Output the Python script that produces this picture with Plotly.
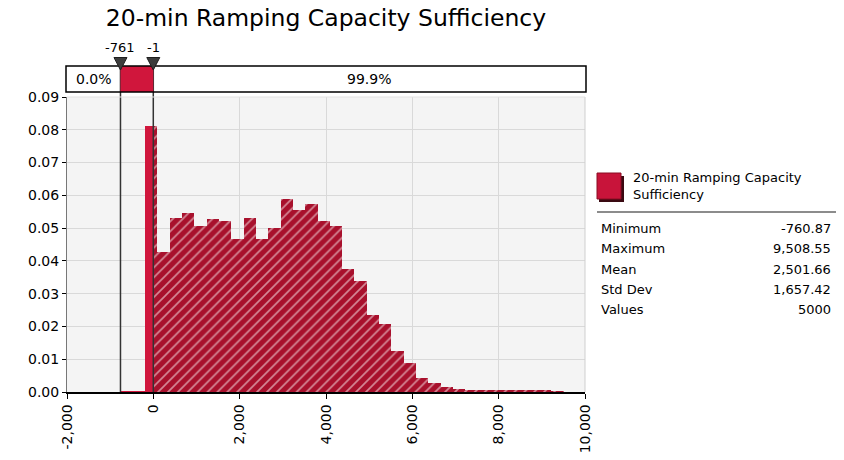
import numpy as np
import plotly.graph_objects as go

# 图表文字
chart_title = "20-min Ramping Capacity Sufficiency"
series_name = "20-min Ramping Capacity<br>Sufficiency"

# 统计量
stat_names = ["Minimum", "Maximum", "Mean", "Std Dev", "Values"]
stat_values = ["-760.87", "9,508.55", "2,501.66", "1,657.42", "5000"]

# 直方图数据（36 个等宽区间，从最小值到最大值）
data_min = -760.87
data_max = 9508.55
n_bins = 36
bin_heights = [
    0.0003, 0.0003, 0.0813, 0.0428, 0.0532, 0.0547, 0.0507, 0.0527, 0.0521,
    0.0468, 0.0532, 0.0468, 0.0500, 0.0588, 0.0556, 0.0574, 0.0521, 0.0507,
    0.0376, 0.0339, 0.0234, 0.0207, 0.0125, 0.0090, 0.0042, 0.0027, 0.0015,
    0.0009, 0.0005, 0.0004, 0.0004, 0.0004, 0.0004, 0.0004, 0.0004, 0.0003,
]

# 分隔线（delimiters）及区间概率
delim_lo = -761
delim_hi = -1
delim_labels = ["-761", "-1"]
left_pct = "0.0%"
right_pct = "99.9%"

# 坐标轴刻度
x_ticks = [-2000, 0, 2000, 4000, 6000, 8000, 10000]
y_ticks = [0.00, 0.01, 0.02, 0.03, 0.04, 0.05, 0.06, 0.07, 0.08, 0.09]

# 画布与绘图区像素位置
W, H = 844, 460
PLOT_L, PLOT_R, PLOT_T, PLOT_B = 67, 585, 97, 392
PW, PH = PLOT_R - PLOT_L, PLOT_B - PLOT_T
FONT = "DejaVu Sans"

SOLID = "#D0163C"
HATCH_BG = "#A8102C"


def px_x(px):
    return (px - PLOT_L) / PW


def px_y(py):
    return 1 - (py - PLOT_T) / PH


def px_dx(dpx):
    # 像素宽度换算为 x 数据单位
    return dpx * (x_ticks[-1] - x_ticks[0]) / PW


def text(t, x, y, xref="paper", xanchor="center", size=13):
    return dict(text=t, xref=xref, yref="paper", x=x, y=y, xanchor=xanchor,
                yanchor="middle", align="left", showarrow=False,
                font=dict(family=FONT, size=size, color="black"))


# 把每个区间按分隔线拆成实心部分和斜线部分
edges = np.linspace(data_min, data_max, n_bins + 1)
solid = {"x": [], "w": [], "h": []}
hatch = {"x": [], "w": [], "h": []}
for lo, hi, h in zip(edges[:-1], edges[1:], bin_heights):
    a, b = max(lo, delim_lo), min(hi, delim_hi)
    if b > a:
        solid["x"].append((a + b) / 2); solid["w"].append(b - a); solid["h"].append(h)
    if lo < delim_lo:
        a, b = lo, min(hi, delim_lo)
        hatch["x"].append((a + b) / 2); hatch["w"].append(b - a); hatch["h"].append(h)
    if hi > delim_hi:
        a, b = max(lo, delim_hi), hi
        hatch["x"].append((a + b) / 2); hatch["w"].append(b - a); hatch["h"].append(h)

fig = go.Figure()

fig.add_trace(go.Bar(
    x=hatch["x"], y=hatch["h"], width=hatch["w"],
    marker=dict(
        color=HATCH_BG, line_width=0,
        pattern=dict(shape="/", fgcolor="white", bgcolor=HATCH_BG, size=7, solidity=0.24),
    ),
    showlegend=False, hoverinfo="skip",
))
fig.add_trace(go.Bar(
    x=solid["x"], y=solid["h"], width=solid["w"],
    marker=dict(color=SOLID, line_width=0),
    showlegend=False, hoverinfo="skip",
))

shapes = []
annotations = []

# 分隔线
for d in [delim_lo, delim_hi]:
    shapes.append(dict(type="line", xref="x", yref="paper", x0=d, x1=d,
                       y0=0, y1=px_y(66), line=dict(color="#333333", width=1.5), layer="above"))

# 顶部的区间条
shapes.append(dict(type="rect", xref="x", yref="paper", x0=delim_lo, x1=delim_hi,
                   y0=px_y(92), y1=px_y(66), fillcolor=SOLID, line_width=0))
shapes.append(dict(type="rect", xref="paper", yref="paper", x0=px_x(66), x1=px_x(586),
                   y0=px_y(92), y1=px_y(66), line=dict(color="black", width=1.5)))

# 分隔线上的三角形
for d in [delim_lo, delim_hi]:
    hw = px_dx(6.5)
    path = (f"M {d - hw},{px_y(57.5)} L {d + hw},{px_y(57.5)} "
            f"L {d},{px_y(70)} Z")
    shapes.append(dict(type="path", xref="x", yref="paper", path=path,
                       fillcolor="#3C3C3C", line=dict(color="#1E1E1E", width=1)))

# 绘图区右边和上边的浅色边框
shapes.append(dict(type="line", xref="paper", yref="paper", x0=1, x1=1, y0=0, y1=1,
                   line=dict(color="#CFCFCF", width=1)))
shapes.append(dict(type="line", xref="paper", yref="paper", x0=0, x1=1, y0=1, y1=1,
                   line=dict(color="#E2E2E2", width=1)))

annotations.append(text(left_pct, (x_ticks[0] + delim_lo) / 2, px_y(79), xref="x", size=14))
annotations.append(text(right_pct, (delim_hi + x_ticks[-1]) / 2, px_y(79), xref="x", size=14))
for d, lab in zip([delim_lo, delim_hi], delim_labels):
    annotations.append(text(lab, d, px_y(47), xref="x", size=13))

# 右侧图例色块
shapes.append(dict(type="rect", xref="paper", yref="paper", x0=px_x(599), x1=px_x(624),
                   y0=px_y(202), y1=px_y(176), fillcolor="#3A0A12", line_width=0))
shapes.append(dict(type="rect", xref="paper", yref="paper", x0=px_x(597), x1=px_x(621),
                   y0=px_y(199), y1=px_y(173), fillcolor="#C8143A",
                   line=dict(color="#8A0C22", width=1)))
annotations.append(text(series_name, px_x(631), px_y(186), xanchor="left"))

# 分隔横线
shapes.append(dict(type="line", xref="paper", yref="paper", x0=px_x(597), x1=px_x(836),
                   y0=px_y(212), y1=px_y(212), line=dict(color="#8C8C8C", width=2)))

# 统计表
for i, (name, val) in enumerate(zip(stat_names, stat_values)):
    yy = px_y(228.5 + 20.25 * i)
    annotations.append(text(name, px_x(599), yy, xanchor="left"))
    annotations.append(text(val, px_x(833), yy, xanchor="right"))

fig.update_layout(
    width=W, height=H,
    margin=dict(l=PLOT_L, r=W - PLOT_R, t=PLOT_T, b=H - PLOT_B, pad=0),
    barmode="overlay", bargap=0,
    paper_bgcolor="white", plot_bgcolor="#F4F4F4",
    title=dict(text=chart_title, x=0.5, xref="paper", xanchor="center",
               y=1 - 18 / H, yanchor="middle",
               font=dict(family=FONT, size=23.5, color="black")),
    shapes=shapes, annotations=annotations,
    showlegend=False,
)

fig.update_xaxes(
    range=[x_ticks[0], x_ticks[-1]],
    tickvals=x_ticks, ticktext=[f"{v:,}" for v in x_ticks],
    tickangle=-90, tickfont=dict(family=FONT, size=14, color="black"),
    showgrid=True, gridcolor="#D9D9D9", gridwidth=1, zeroline=False,
    showline=True, linecolor="black", linewidth=1.5,
    ticks="outside", ticklen=5, tickcolor="black", automargin=False,
)
fig.update_yaxes(
    range=[y_ticks[0], y_ticks[-1]],
    tickvals=y_ticks, ticktext=[f"{v:.2f}" for v in y_ticks],
    tickfont=dict(family=FONT, size=14, color="black"),
    showgrid=True, gridcolor="#D9D9D9", gridwidth=1, zeroline=False,
    showline=True, linecolor="#777777", linewidth=1,
    ticks="outside", ticklen=4, tickcolor="black", automargin=False,
)

# 去掉页面 body 的默认边距，让图形贴齐窗口左上角；隐藏工具栏
fig.write_html("out.html", config={"displayModeBar": False},
               post_script="document.body.style.margin = '0px';")
